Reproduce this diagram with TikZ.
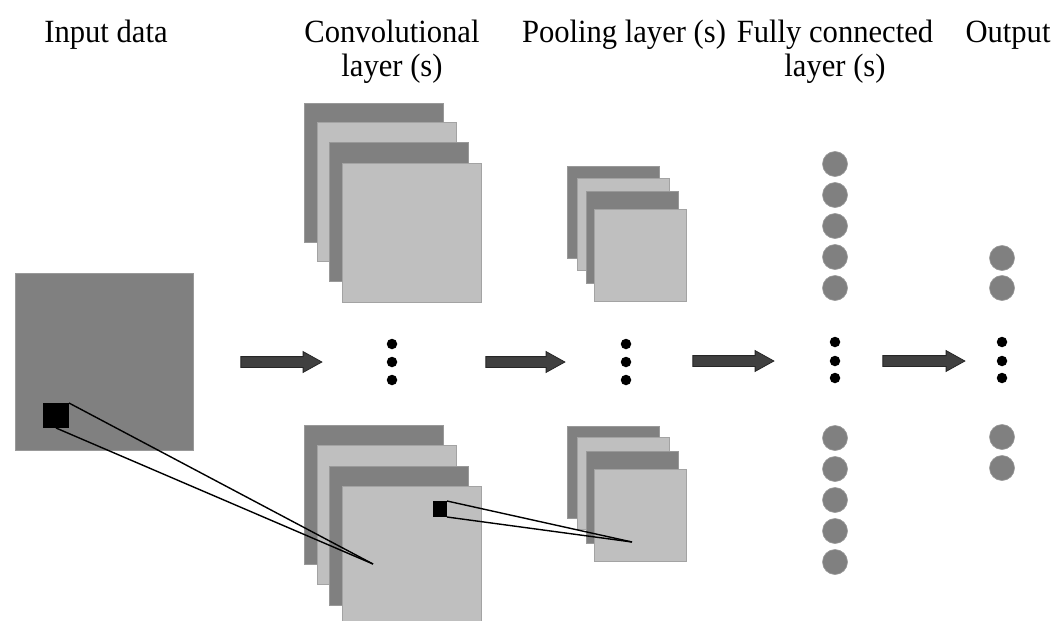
\documentclass[tikz,border=0pt]{standalone}
\usepackage{fontspec}
\setmainfont{Liberation Serif}
\usetikzlibrary{shapes.arrows}
\newcommand{\captext}[1]{\scalebox{1.02}[1.08]{#1}}
\begin{document}
\begin{tikzpicture}[x=1pt,y=-1pt,
 sq/.style={line width=0.8pt, anchor=north west, inner sep=0pt, outer sep=0pt},
 darksq/.style={sq, draw=black!40, fill=black!50},
 lightsq/.style={sq, draw=black!36, fill=black!25},
 convsq/.style={minimum width=139pt, minimum height=139pt},
 poolsq/.style={minimum width=92pt, minimum height=92pt},
 neuron/.style={circle, fill=black!50, draw=black!40, line width=0.6pt, minimum size=25pt, inner sep=0pt},
 bullet/.style={circle, fill=black, minimum size=10.5pt, inner sep=0pt},
 flow/.style={single arrow, fill=black!75, draw=black!85, line width=0.8pt, inner xsep=0pt, inner ysep=5pt, single arrow head extend=5pt, single arrow tip angle=58, anchor=center},
 caption/.style={anchor=base, inner sep=0pt, font=\fontsize{30}{32}\selectfont},
 conn/.style={line width=1.4pt, black}
]
\clip (0,0) rectangle (1052,621);
\fill[white] (0,0) rectangle (1052,621);

% captions
\node[caption] (tin) at (106,42) {\captext{Input data}};
\node[caption] (tconv1) at (392,42) {\captext{Convolutional}};
\node[caption] (tconv2) at (392,76) {\captext{layer (s)}};
\node[caption] (tpool) at (624,42) {\captext{Pooling layer (s)}};
\node[caption] (tfc1) at (835,42) {\captext{Fully connected}};
\node[caption] (tfc2) at (835,76) {\captext{layer (s)}};
\node[caption] (tout) at (1008,42) {\captext{Output}};

% input
\node[darksq, minimum width=178pt, minimum height=177pt] (input) at (15,273) {};
\node[sq, fill=black, minimum width=26pt, minimum height=25pt] (rf) at (43,403) {};

% convolutional stacks
\node[darksq, convsq] (ca1) at (304,103) {};
\node[lightsq, convsq] (ca2) at (317,122) {};
\node[darksq, convsq] (ca3) at (329,142) {};
\node[lightsq, convsq] (ca4) at (342,163) {};
\node[darksq, convsq] (cb1) at (304,425) {};
\node[lightsq, convsq] (cb2) at (317,445) {};
\node[darksq, convsq] (cb3) at (329,466) {};
\node[lightsq, convsq] (cb4) at (342,486) {};
\node[sq, fill=black, minimum width=14pt, minimum height=16pt] (cs) at (433,501) {};

% pooling stacks
\node[darksq, poolsq] (pa1) at (567,166) {};
\node[lightsq, poolsq] (pa2) at (577,178) {};
\node[darksq, poolsq] (pa3) at (586,191) {};
\node[lightsq, poolsq] (pa4) at (594,209) {};
\node[darksq, poolsq] (pb1) at (567,426) {};
\node[lightsq, poolsq] (pb2) at (577,437) {};
\node[darksq, poolsq] (pb3) at (586,451) {};
\node[lightsq, poolsq] (pb4) at (594,469) {};

% receptive field lines
\coordinate (c1) at (373,564);
\coordinate (c2) at (632,542);
\draw[conn] (rf.north east) -- (c1);
\draw[conn] (rf.south) -- (c1);
\draw[conn] (cs.north east) -- (c2);
\draw[conn] (cs.south east) -- (c2);

% vertical ellipses
\foreach \yy [count=\i] in {344,362,380} {
  \node[bullet] (dc\i) at (392,\yy) {};
  \node[bullet] (dp\i) at (626,\yy) {};
}
\foreach \yy [count=\i] in {342,361,378} {
  \node[bullet] (df\i) at (835,\yy) {};
  \node[bullet] (do\i) at (1002,\yy) {};
}

% fully connected neurons
\foreach \yy [count=\i] in {164,195,226,257,288,438,469,500,531,562} {
  \node[neuron] (fc\i) at (835,\yy) {};
}
% output neurons
\foreach \yy [count=\i] in {258,288,437,468} {
  \node[neuron] (on\i) at (1002,\yy) {};
}

% arrows
\node[flow, minimum height=81pt] (a1) at (276.5,362) {};
\node[flow, minimum height=79pt] (a2) at (520.5,362) {};
\node[flow, minimum height=81pt] (a3) at (728.5,361) {};
\node[flow, minimum height=82pt] (a4) at (919,361) {};
\end{tikzpicture}
\end{document}
